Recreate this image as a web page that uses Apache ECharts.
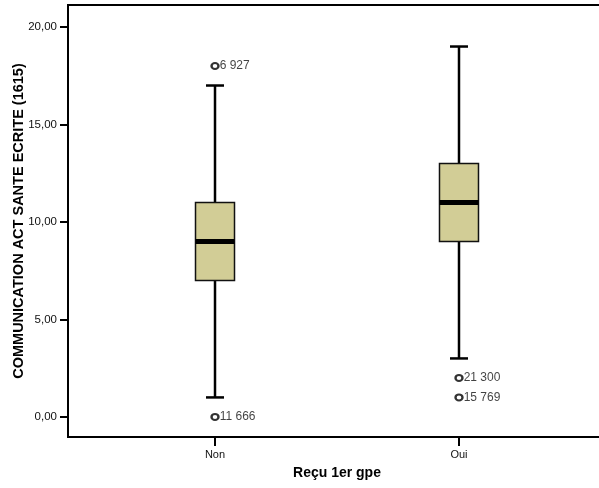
<!DOCTYPE html>
<html>
<head>
<meta charset="utf-8">
<script src="https://cdn.jsdelivr.net/npm/echarts@6/dist/echarts.min.js"></script>
<style>html,body{margin:0;padding:0;background:#fff}#c{width:599px;height:488px}</style>
</head>
<body>
<div id="c"></div>
<script>
// Data
const categories = ['Non', 'Oui'];
const whiskerLow = [1, 3];
const q1 = [7, 9];
const median = [9, 11];
const q3 = [11, 13];
const whiskerHigh = [17, 19];
const outlierCat = [0, 0, 1, 1];
const outlierVal = [18, 0, 2, 1];
const outlierLabel = ['6 927', '11 666', '21 300', '15 769'];
const yTicks = [0, 5, 10, 15, 20];

const boxData = categories.map((c, i) => [i, whiskerLow[i], q1[i], median[i], q3[i], whiskerHigh[i]]);
const outData = outlierVal.map((v, i) => ({ value: [outlierCat[i], v], name: outlierLabel[i] }));

const font = '"Liberation Sans", Arial, sans-serif';
const chart = echarts.init(document.getElementById('c'));
chart.setOption({
  animation: false,
  backgroundColor: '#fff',
  grid: { left: 68, top: 5, right: -7, bottom: 51, containLabel: false, outerBoundsMode: 'none', show: true, borderColor: '#000', borderWidth: 2, backgroundColor: 'transparent' },
  xAxis: {
    type: 'value', min: -0.6025, max: 1.6025,
    splitLine: { show: false },
    axisLine: { show: true, onZero: false, lineStyle: { color: '#000', width: 2 } },
    axisTick: { show: true, customValues: [0, 1], length: 9, lineStyle: { color: '#000', width: 2 } },
    axisLabel: { customValues: [0, 1], formatter: v => categories[Math.round(v)] || '', color: '#111', fontSize: 11, fontFamily: font, margin: 12 },
    name: 'Reçu 1er gpe', nameLocation: 'middle', nameGap: 29, nameMoveOverlap: false,
    nameTextStyle: { color: '#000', fontSize: 14, fontWeight: 'bold', fontFamily: font }
  },
  yAxis: {
    type: 'value', min: -1.03, max: 21.13,
    splitLine: { show: false },
    axisLine: { show: true, onZero: false, lineStyle: { color: '#000', width: 2 } },
    axisTick: { show: true, customValues: yTicks, length: 8, lineStyle: { color: '#000', width: 2 } },
    axisLabel: { customValues: yTicks, formatter: v => v.toFixed(2).replace('.', ','), color: '#111', fontSize: 11.5, fontFamily: font, margin: 11 },
    name: 'COMMUNICATION ACT SANTE ECRITE (1615)', nameLocation: 'middle', nameGap: 42, nameMoveOverlap: false,
    nameTextStyle: { color: '#000', fontSize: 14.5, fontWeight: 'bold', fontFamily: font }
  },
  series: [
    {
      type: 'custom',
      data: boxData,
      encode: { x: 0, y: [1, 2, 3, 4, 5] },
      renderItem: function (params, api) {
        const x = api.value(0);
        const pLow = api.coord([x, api.value(1)]);
        const pQ1 = api.coord([x, api.value(2)]);
        const pMed = api.coord([x, api.value(3)]);
        const pQ3 = api.coord([x, api.value(4)]);
        const pHigh = api.coord([x, api.value(5)]);
        const cx = pLow[0];
        const bw = 39, cw = 18;
        const ls = { stroke: '#000', lineWidth: 2.5 };
        return {
          type: 'group',
          children: [
            { type: 'line', shape: { x1: cx, y1: pLow[1], x2: cx, y2: pQ1[1] }, style: ls },
            { type: 'line', shape: { x1: cx, y1: pQ3[1], x2: cx, y2: pHigh[1] }, style: ls },
            { type: 'line', shape: { x1: cx - cw / 2, y1: pLow[1], x2: cx + cw / 2, y2: pLow[1] }, style: ls },
            { type: 'line', shape: { x1: cx - cw / 2, y1: pHigh[1], x2: cx + cw / 2, y2: pHigh[1] }, style: ls },
            { type: 'rect', shape: { x: cx - bw / 2, y: pQ3[1], width: bw, height: pQ1[1] - pQ3[1] }, style: { fill: '#d2cd96', stroke: '#111', lineWidth: 1.5 } },
            { type: 'line', shape: { x1: cx - bw / 2, y1: pMed[1], x2: cx + bw / 2, y2: pMed[1] }, style: { stroke: '#000', lineWidth: 5 } }
          ]
        };
      }
    },
    {
      type: 'scatter',
      data: outData,
      symbol: 'circle', symbolSize: [7, 6],
      itemStyle: { color: '#fff', borderColor: '#000', borderWidth: 2.2 },
      label: { show: true, position: 'right', distance: 0, formatter: p => p.name, color: '#111', fontSize: 12, fontFamily: font }
    }
  ]
});
</script>
</body>
</html>
